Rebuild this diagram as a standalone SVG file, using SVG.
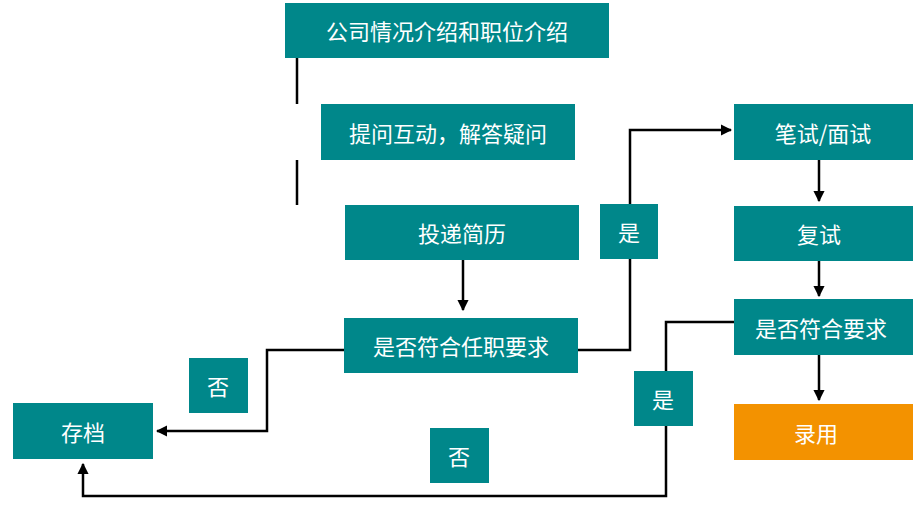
<svg xmlns="http://www.w3.org/2000/svg" width="918" height="506" viewBox="0 0 918 506">
<style>
.b{fill:#00878A}.o{fill:#F39200}
text{fill:#fff;font-family:"Noto Sans CJK SC","Noto Sans",sans-serif;font-size:22px;text-anchor:middle;dominant-baseline:central}
.c{fill:none;stroke:#000;stroke-width:2.5}
</style>
<defs><marker id="a" viewBox="0 0 10 10" refX="9" refY="5" markerWidth="4.5" markerHeight="4.5" orient="auto" markerUnits="strokeWidth"><path d="M0,0L10,5L0,10z" fill="#000"/></marker></defs>
<rect width="918" height="506" fill="#fff"/>
<g id="connectors">
<path class="c" d="M297,58V104M297,160V205"/>
<path class="c" d="M463,260V310" marker-end="url(#a)"/>
<path class="c" d="M344,350H267V431H157" marker-end="url(#a)"/>
<path class="c" d="M578,350H630V130H731" marker-end="url(#a)"/>
<path class="c" d="M819,160V201" marker-end="url(#a)"/>
<path class="c" d="M819,261V296" marker-end="url(#a)"/>
<path class="c" d="M819,355V400" marker-end="url(#a)"/>
<path class="c" d="M734,322H666V496H83V464" marker-end="url(#a)"/>
</g>
<g id="n1"><rect class="b" x="285" y="3" width="324" height="55"/><text x="447" y="30">公司情况介绍和职位介绍</text></g>
<g id="n2"><rect class="b" x="321" y="104" width="254" height="56"/><text x="448" y="132">提问互动，解答疑问</text></g>
<g id="n3"><rect class="b" x="345" y="205" width="234" height="55"/><text x="462" y="232">投递简历</text></g>
<g id="n4"><rect class="b" x="344" y="318" width="234" height="55"/><text x="461" y="345">是否符合任职要求</text></g>
<g id="n5"><rect class="b" x="13" y="403" width="140" height="56"/><text x="83" y="431">存档</text></g>
<g id="l1"><rect class="b" x="189" y="358" width="59" height="55"/><text x="218" y="385">否</text></g>
<g id="l2"><rect class="b" x="600" y="204" width="58" height="55"/><text x="629" y="231">是</text></g>
<g id="n6"><rect class="b" x="734" y="104" width="179" height="56"/><text x="823" y="132">笔试/面试</text></g>
<g id="n7"><rect class="b" x="734" y="206" width="179" height="55"/><text x="819" y="233">复试</text></g>
<g id="n8"><rect class="b" x="734" y="299" width="179" height="56"/><text x="821" y="327">是否符合要求</text></g>
<g id="n9"><rect class="o" x="734" y="404" width="179" height="56"/><text x="816" y="432">录用</text></g>
<g id="l3"><rect class="b" x="634" y="371" width="59" height="55"/><text x="663" y="398">是</text></g>
<g id="l4"><rect class="b" x="430" y="428" width="59" height="55"/><text x="459" y="455">否</text></g>
</svg>
